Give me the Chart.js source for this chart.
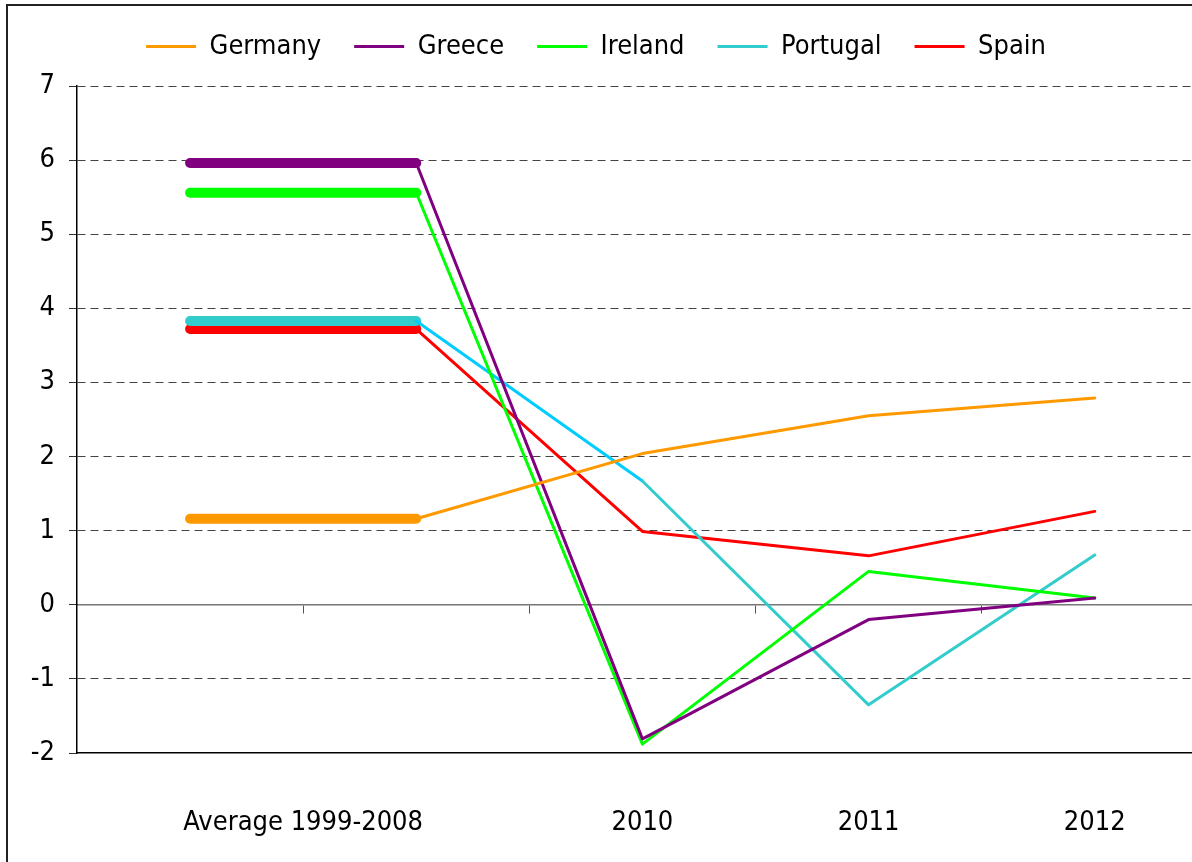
<!DOCTYPE html>
<html>
<head>
<meta charset="utf-8">
<script src="https://cdn.jsdelivr.net/npm/chart.js@4.4.1/dist/chart.umd.min.js"></script>
<style>
	body { margin: 0; overflow: hidden; background: #fff; }
	#frame { position: absolute; left: 6px; top: 4px; width: 1400px; height: 1000px; border: 2px solid #222; }
	#wrap { position: absolute; left: 0; top: 0; width: 1192px; height: 862px; }
</style>
</head>
<body>
<div id="frame"></div>
<div id="wrap"><canvas id="chart"></canvas></div>
<script>
// categories: the first one is the 1999-2008 average, drawn as a flat thick bar over two slots
const categories = ['Average 1999-2008', '2010', '2011', '2012'];
const countries = ['Germany', 'Greece', 'Ireland', 'Portugal', 'Spain'];

const germany = [1.16, 2.04, 2.55, 2.79];
const greece = [5.96, -1.81, -0.20, 0.09];
const ireland = [5.56, -1.88, 0.45, 0.09];
const portugal = [3.83, 1.67, -1.35, 0.67];
const spain = [3.72, 0.99, 0.66, 1.26];

const yTicks = [-2, -1, 0, 1, 2, 3, 4, 5, 6, 7];

const colors = ['#ff9900', '#800080', '#00ff00', '#33cccc', '#ff0000'];
// the first thin segment of Portugal is a lighter blue
const firstSegColors = ['#ff9900', '#800080', '#00ff00', '#00ccff', '#ff0000'];

const fontFamily = '"Liberation Sans Narrow", "DejaVu Sans Condensed", "Liberation Sans", sans-serif';
const fontSize = 27;

// slot positions: average spans 0..1, then one slot per year
const catPos = [0.5, 2, 3, 4];

function toPoints(values) {
	const pts = [{x: 0, y: values[0]}, {x: 1, y: values[0]}];
	for (let i = 1; i < values.length; i++) {
		pts.push({x: i + 1, y: values[i]});
	}
	return pts;
}

const seriesValues = [germany, greece, ireland, portugal, spain];
const datasets = countries.map(function(name, i) {
	return {
		label: name,
		data: toPoints(seriesValues[i]),
		borderColor: colors[i],
		backgroundColor: colors[i],
		borderWidth: 3,
		borderCapStyle: 'round',
		borderJoinStyle: 'round',
		pointRadius: 0,
		pointHoverRadius: 0,
		tension: 0,
		segment: {
			borderWidth: ctx => ctx.p0DataIndex === 0 ? 10 : 3,
			borderColor: ctx => ctx.p0DataIndex === 1 ? firstSegColors[i] : colors[i]
		}
	};
});

// push the plot down a bit under the legend
const legendGap = {
	id: 'legendGap',
	afterInit: function(chart) {
		const legend = chart.legend;
		const fit = legend.fit;
		legend.fit = function() {
			fit.call(this);
			this.height += 16;
		};
	}
};

const ctx = document.getElementById('chart').getContext('2d');
const chart = new Chart(ctx, {
	type: 'line',
	data: { datasets: datasets },
	plugins: [legendGap],
	options: {
		responsive: true,
		maintainAspectRatio: false,
		animation: false,
		layout: { padding: { top: 0, right: 0, left: 0, bottom: 0 } },
		plugins: {
			tooltip: { enabled: false },
			legend: {
				position: 'top',
				labels: {
					boxWidth: 50,
					boxHeight: 3,
					padding: 33,
					color: '#000',
					font: { family: fontFamily, size: fontSize },
					generateLabels: function(chart) {
						return chart.data.datasets.map((ds, i) => ({
							text: ds.label,
							fillStyle: colors[i],
							strokeStyle: colors[i],
							lineWidth: 0,
							datasetIndex: i
						}));
					}
				}
			}
		},
		scales: {
			x: {
				type: 'linear',
				min: -0.5,
				max: 4.43,
				afterBuildTicks: function(scale) {
					scale.ticks = catPos.map(v => ({value: v}));
				},
				afterFit: function(scale) { scale.height = 109; },
				ticks: {
					autoSkip: false,
					maxRotation: 0,
					padding: 54,
					color: '#000',
					font: { family: fontFamily, size: fontSize },
					callback: function(value) {
						const idx = catPos.indexOf(value);
						return idx >= 0 ? categories[idx] : '';
					}
				},
				grid: { display: true, drawOnChartArea: false, drawTicks: false },
				border: { display: true, color: '#000', width: 1.5, z: 1 }
			},
			xZero: {
				type: 'linear',
				position: { y: 0 },
				min: -0.5,
				max: 4.43,
				afterBuildTicks: function(scale) {
					scale.ticks = [0.5, 1.5, 2.5, 3.5].map(v => ({value: v}));
				},
				afterFit: function(scale) { scale.height = 0; },
				ticks: { display: false },
				grid: { drawOnChartArea: false, drawTicks: true, tickLength: 8, color: '#555', lineWidth: 1 },
				border: { display: true, color: '#777', width: 1.5 }
			},
			y: {
				min: -2,
				max: 7,
				afterBuildTicks: function(scale) {
					scale.ticks = yTicks.map(v => ({value: v}));
				},
				afterFit: function(scale) { scale.width = 77; },
				ticks: {
					padding: 14,
					color: '#000',
					font: { family: fontFamily, size: fontSize }
				},
				grid: {
					color: ctx => ctx.tick && (ctx.tick.value === -2 || ctx.tick.value === 0) ? 'rgba(0,0,0,0)' : '#444',
					lineWidth: 1,
					tickLength: 8,
					tickColor: '#333',
					tickBorderDash: []
				},
				border: { display: true, color: '#000', width: 1.5, dash: [8, 5] }
			}
		}
	}
});
</script>
</body>
</html>
